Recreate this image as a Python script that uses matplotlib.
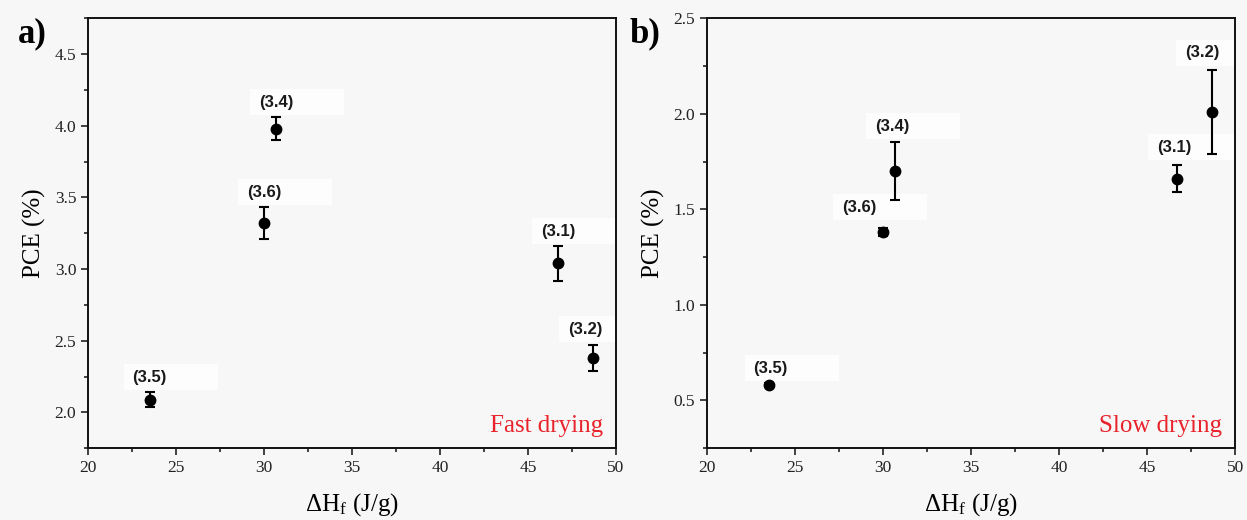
import matplotlib
matplotlib.use("Agg")
import matplotlib.pyplot as plt
import matplotlib.transforms as mtransforms
from matplotlib.patches import Rectangle
from matplotlib.ticker import MultipleLocator

plt.rcParams["font.family"] = ["Liberation Serif", "DejaVu Serif"]
plt.rcParams["mathtext.fontset"] = "custom"
plt.rcParams["mathtext.rm"] = "Liberation Serif"
plt.rcParams["mathtext.it"] = "Liberation Serif:italic"

# Sample labels and enthalpy of fusion (J/g)
samples = ["(3.5)", "(3.6)", "(3.4)", "(3.1)", "(3.2)"]
dHf = [23.5, 30.0, 30.7, 46.7, 48.7]

# PCE (%) with standard deviations, fast drying
pce_fast = [2.09, 3.32, 3.98, 3.04, 2.38]
err_fast = [0.05, 0.11, 0.08, 0.12, 0.09]

# PCE (%) with standard deviations, slow drying
pce_slow = [0.58, 1.38, 1.70, 1.66, 2.01]
err_slow = [0.01, 0.02, 0.15, 0.07, 0.22]

BG = "#f7f7f7"
RED = "#e8232b"

fig = plt.figure(figsize=(12.47, 5.2), dpi=100, facecolor=BG)
ax_a = fig.add_axes([0.0706, 0.138, 0.4234, 0.827])
ax_b = fig.add_axes([0.567, 0.138, 0.4235, 0.827])

panels = [
    (ax_a, pce_fast, err_fast, (1.75, 4.75), "a)", "Fast drying",
     [(0, 15), (0, 15), (0, 15), (0, 15), (-8, 16)]),
    (ax_b, pce_slow, err_slow, (0.25, 2.5), "b)", "Slow drying",
     [(2, 15), (-24, 21), (-3, 16), (-3, 18), (-10, 17)]),
]

for ax, y, e, ylim, tag, note, offs in panels:
    ax.set_facecolor(BG)
    for name, xv, yv, ev, (dx, dy) in zip(samples, dHf, y, e, offs):
        # white label backdrop, sized in pixels around the label position
        tr = mtransforms.Affine2D() + mtransforms.ScaledTranslation(
            xv, yv + ev, ax.transData)
        ax.add_patch(Rectangle((dx - 26, dy - 13), 94, 26, transform=tr,
                               facecolor="#fdfdfd", edgecolor="none", zorder=1))
        ax.annotate(name, (xv, yv + ev), xytext=(dx, dy), textcoords="offset pixels",
                    ha="center", va="center", fontsize=12, fontweight="bold",
                    family=["Liberation Sans", "DejaVu Sans"], color="#1a1a1a",
                    zorder=3)
    ax.errorbar(dHf, y, yerr=e, fmt="o", color="black", ms=7.5,
                ecolor="black", elinewidth=1.5, capsize=3.5, capthick=1.5,
                zorder=4)
    ax.set_xlim(20, 50)
    ax.set_ylim(*ylim)
    ax.xaxis.set_major_locator(MultipleLocator(5))
    ax.xaxis.set_minor_locator(MultipleLocator(2.5))
    ax.yaxis.set_major_locator(MultipleLocator(0.5))
    ax.yaxis.set_minor_locator(MultipleLocator(0.25))
    ax.tick_params(which="both", direction="out", top=False, right=False,
                   labelsize=12.5, width=1.2, colors="#222222")
    ax.tick_params(which="major", length=5)
    ax.tick_params(which="minor", length=3)
    for s in ax.spines.values():
        s.set_linewidth(1.4)
        s.set_color("#111111")
        s.set_zorder(5)
    ax.set_ylabel("PCE (%)", fontsize=18, labelpad=6)
    ax.set_xlabel(r"$\Delta$H$_\mathrm{f}$ (J/g)", fontsize=18, labelpad=11)
    ax.text(0.975, 0.025, note, transform=ax.transAxes, ha="right", va="bottom",
            fontsize=18, color=RED, zorder=3)

fig.text(0.014, 0.935, "a)", fontsize=25, fontweight="bold", va="center", ha="left")
fig.text(0.505, 0.935, "b)", fontsize=25, fontweight="bold", va="center", ha="left")

fig.savefig("out.png", dpi=100, facecolor=BG)
